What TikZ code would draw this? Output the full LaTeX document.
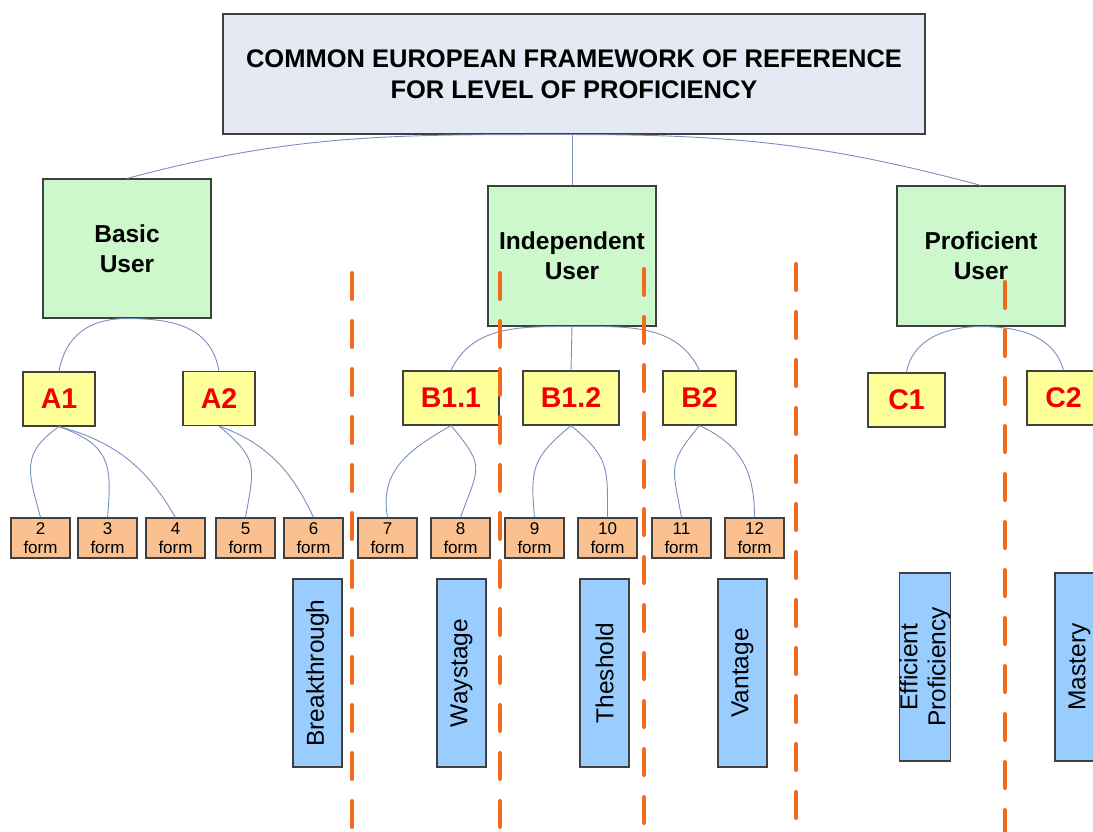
\documentclass[tikz,border=0pt]{standalone}
\usepackage{fontspec}
\setmainfont{Liberation Sans}
\definecolor{titlefill}{HTML}{E4E9F3}
\definecolor{userfill}{HTML}{CCF8CC}
\definecolor{levelfill}{HTML}{FFFF99}
\definecolor{formfill}{HTML}{FAC08F}
\definecolor{namefill}{HTML}{99CCFF}
\definecolor{boxline}{HTML}{404040}
\definecolor{conn}{HTML}{7A8FBF}
\definecolor{dashorange}{HTML}{F26A1B}
\definecolor{levelred}{HTML}{F00000}
\begin{document}
\begin{tikzpicture}[x=1pt,y=1pt,
  box/.style={draw=boxline,line width=1.1pt,inner sep=0pt,align=center},
  titlebox/.style={box,fill=titlefill,minimum width=702pt,minimum height=120pt,
    font=\fontsize{25.5}{31}\selectfont\bfseries},
  userbox/.style={box,fill=userfill,minimum width=168pt,minimum height=140pt,
    font=\fontsize{24.5}{30}\selectfont\bfseries},
  levelbox/.style={box,fill=levelfill,minimum height=54pt,text=levelred,
    font=\fontsize{28.5}{32}\selectfont\bfseries},
  formbox/.style={box,fill=formfill,minimum width=59pt,minimum height=40pt,
    font=\fontsize{17}{19.5}\selectfont},
  namebox/.style={box,fill=namefill,rotate=90,minimum width=188pt,minimum height=49pt,
    font=\fontsize{24.5}{28}\selectfont},
  link/.style={draw=conn,line width=0.9pt},
  divider/.style={draw=dashorange,line width=4pt,line cap=round,dash pattern=on 26pt off 22pt}
]
\useasboundingbox (0,0) rectangle (1093,-832);
\clip (0,0) rectangle (1093,-832);

% nodes
\node[titlebox] (title) at (574,-74) {COMMON EUROPEAN FRAMEWORK OF REFERENCE\\FOR LEVEL OF PROFICIENCY};
\node[userbox,minimum height=139pt] (basic) at (127,-248.5) {Basic\\User};
\node[userbox] (indep) at (572,-256) {Independent\\User};
\node[userbox] (prof) at (981,-256) {Proficient\\User};

\node[levelbox,minimum width=72pt] (A1) at (59,-399) {A1};
\node[levelbox,minimum width=72pt] (A2) at (219,-398.5) {A2};
\node[levelbox,minimum width=96pt] (B11) at (451,-398) {B1.1};
\node[levelbox,minimum width=96pt] (B12) at (571,-398) {B1.2};
\node[levelbox,minimum width=73pt] (B2) at (699.5,-398) {B2};
\node[levelbox,minimum width=77pt] (C1) at (906.5,-400) {C1};
\node[levelbox,minimum width=73pt] (C2) at (1063.5,-398) {C2};

\node[formbox] (f2) at (40.5,-538) {2\\form};
\node[formbox] (f3) at (107.5,-538) {3\\form};
\node[formbox] (f4) at (175.5,-538) {4\\form};
\node[formbox] (f5) at (245.5,-538) {5\\form};
\node[formbox] (f6) at (313.5,-538) {6\\form};
\node[formbox] (f7) at (387.5,-538) {7\\form};
\node[formbox] (f8) at (460.5,-538) {8\\form};
\node[formbox] (f9) at (534.5,-538) {9\\form};
\node[formbox] (f10) at (607.5,-538) {10\\form};
\node[formbox] (f11) at (681.5,-538) {11\\form};
\node[formbox] (f12) at (754.5,-538) {12\\form};

\node[namebox] (nbreak) at (317.5,-673) {Breakthrough};
\node[namebox] (nway) at (461.5,-673) {Waystage};
\node[namebox] (nthres) at (604.5,-673) {Theshold};
\node[namebox] (nvant) at (742.5,-673) {Vantage};
\node[namebox] (neff) at (925,-667) {Efficient\\Proficiency};
\node[namebox] (nmast) at (1079.5,-667) {Mastery};

% connectors
\draw[link] (title.south) to[out=180,in=15] (basic.north);
\draw[link] (title.south -| indep.north) -- (indep.north);
\draw[link] (title.south) to[out=0,in=165] (prof.north);

\draw[link] (basic.south) to[out=180,in=80,looseness=1.1] (A1.north);
\draw[link] (basic.south) to[out=0,in=100,looseness=1.1] (A2.north);
\draw[link] (indep.south) to[out=180,in=65] (B11.north);
\draw[link] (indep.south) -- (B12.north);
\draw[link] (indep.south) to[out=0,in=115] (B2.north);
\draw[link] (prof.south) to[out=180,in=80] (C1.north);
\draw[link] (prof.south) to[out=0,in=105] (C2.north);

\draw[link] (A1.south) to[out=215,in=105,looseness=1.3] (f2.north);
\draw[link] (A1.south) to[out=-20,in=85,looseness=1.35] (f3.north);
\draw[link] (A1.south) to[out=-15,in=120] (f4.north);
\draw[link] (A2.south) to[out=-40,in=80,looseness=1.4] (f5.north);
\draw[link] (A2.south) to[out=-20,in=115] (f6.north);
\draw[link] (B11.south) to[out=210,in=100,looseness=1.1] (f7.north);
\draw[link] (B11.south) to[out=-50,in=70,looseness=1.5] (f8.north);
\draw[link] (B12.south) to[out=220,in=95,looseness=1.3] (f9.north);
\draw[link] (B12.south) to[out=-40,in=90,looseness=1.3] (f10.north);
\draw[link] (B2.south) to[out=230,in=100,looseness=1.4] (f11.north);
\draw[link] (B2.south) to[out=-25,in=90,looseness=1.1] (f12.north);

% dashed dividers
\coordinate (d1t) at (352,-273); \coordinate (d1b) at (352,-840);
\coordinate (d2t) at (500,-273); \coordinate (d2b) at (500,-840);
\coordinate (d3t) at (644,-269); \coordinate (d3b) at (644,-840);
\coordinate (d4t) at (796,-264); \coordinate (d4b) at (796,-840);
\coordinate (d5t) at (1005,-282); \coordinate (d5b) at (1005,-840);
\foreach \d in {1,...,5} {\draw[divider] (d\d t) -- (d\d b);}
\end{tikzpicture}
\end{document}
